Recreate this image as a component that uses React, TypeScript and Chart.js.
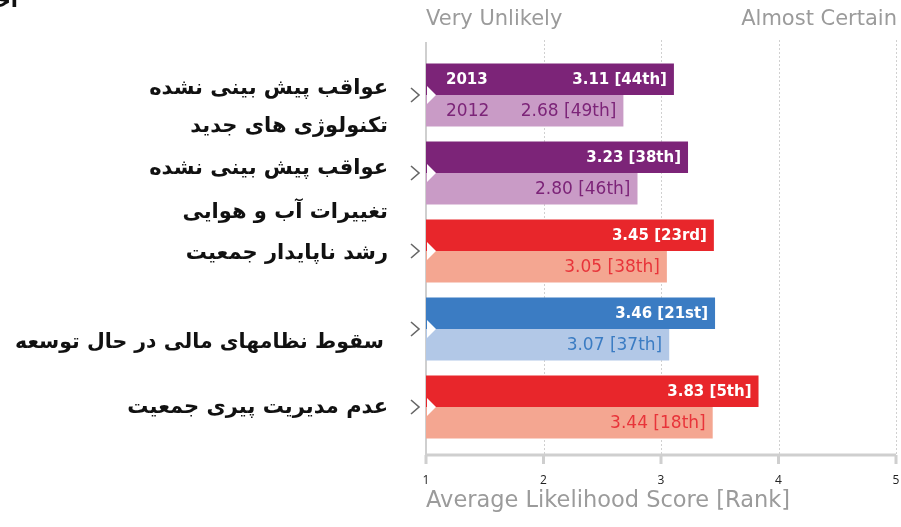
import React, { useEffect, useRef } from 'react';
import { Chart, registerables } from 'chart.js';

Chart.register(...registerables);

// ---------- data ----------
const labelLines: string[][] = [
  ['عواقب پیش بینی نشده', 'تکنولوژی های جدید'],
  ['عواقب پیش بینی نشده', 'تغییرات آب و هوایی'],
  ['رشد ناپایدار جمعیت'],
  ['سقوط نظامهای مالی در حال توسعه'],
  ['عدم مدیریت پیری جمعیت'],
];
const categories = labelLines.map((l) => l.join(' '));
const seriesNames = ['2013', '2012'];
const scores2013 = [3.11, 3.23, 3.45, 3.46, 3.83];
const ranks2013 = ['44th', '38th', '23rd', '21st', '5th'];
const scores2012 = [2.68, 2.8, 3.05, 3.07, 3.44];
const ranks2012 = ['49th', '46th', '38th', '37th', '18th'];
const xTicks = [1, 2, 3, 4, 5];
const topLeftLabel = 'Very Unlikely';
const topRightLabel = 'Almost Certain';
const axisTitle = 'Average Likelihood Score [Rank]';
const clippedTitle = 'احتمال';

// ---------- styles ----------
const PURPLE = { dark: '#7c2478', light: '#c99bc6', text: '#7c2478' };
const RED = { dark: '#e8262b', light: '#f4a691', text: '#e8343a' };
const BLUE = { dark: '#3b7cc3', light: '#b2c8e7', text: '#3b7cc3' };
const palette = [PURPLE, PURPLE, RED, BLUE, RED];
const labelYOffsets = [[-6, 32], [-4, 40], [3], [14], [1]];
const labelRight = [388, 388, 388, 384, 388];
const labelSize = [21, 21, 21, 20.5, 21];
const SANS = '"DejaVu Sans", sans-serif';

const decor = {
  id: 'decor',
  beforeDatasetsDraw(chart: any) {
    const { ctx, chartArea } = chart;
    const x = chart.scales.x;
    const top = chartArea.top - 16;
    const axisY = chartArea.bottom + 9;
    ctx.save();
    // dashed grid
    ctx.strokeStyle = '#d0d0d0';
    ctx.lineWidth = 1;
    ctx.setLineDash([2, 2]);
    x.ticks.forEach((t: any) => {
      if (t.value === xTicks[0]) return;
      const px = Math.round(x.getPixelForValue(t.value)) + 0.5;
      ctx.beginPath();
      ctx.moveTo(px, top);
      ctx.lineTo(px, axisY);
      ctx.stroke();
    });
    ctx.setLineDash([]);
    // left axis line
    ctx.strokeStyle = '#cfcfcf';
    ctx.lineWidth = 2;
    ctx.beginPath();
    ctx.moveTo(chartArea.left, top + 2);
    ctx.lineTo(chartArea.left, axisY);
    ctx.stroke();
    // bottom axis
    ctx.lineWidth = 3;
    ctx.beginPath();
    ctx.moveTo(chartArea.left, axisY);
    ctx.lineTo(chartArea.right, axisY);
    ctx.stroke();
    x.ticks.forEach((t: any) => {
      const px = x.getPixelForValue(t.value);
      ctx.beginPath();
      ctx.moveTo(px, axisY);
      ctx.lineTo(px, axisY + 9);
      ctx.stroke();
    });
    ctx.restore();
  },
  afterDatasetsDraw(chart: any) {
    const { ctx, chartArea } = chart;
    const y = chart.scales.y;
    ctx.save();
    // notches & chevrons
    categories.forEach((_, i) => {
      const c = y.getPixelForValue(i);
      ctx.fillStyle = '#ffffff';
      ctx.beginPath();
      ctx.moveTo(chartArea.left + 1, c - 9);
      ctx.lineTo(chartArea.left + 10, c);
      ctx.lineTo(chartArea.left + 1, c + 9);
      ctx.closePath();
      ctx.fill();
      ctx.strokeStyle = '#666666';
      ctx.lineWidth = 1.6;
      ctx.beginPath();
      ctx.moveTo(chartArea.left - 15, c - 7);
      ctx.lineTo(chartArea.left - 7, c);
      ctx.lineTo(chartArea.left - 15, c + 7);
      ctx.stroke();
    });
    // bar value labels
    const allScores = [scores2013, scores2012];
    const allRanks = [ranks2013, ranks2012];
    ctx.textBaseline = 'middle';
    [0, 1].forEach((di) => {
      const meta = chart.getDatasetMeta(di);
      meta.data.forEach((bar: any, i: number) => {
        const txt = `${allScores[di][i].toFixed(2)} [${allRanks[di][i]}]`;
        ctx.fillStyle = di === 0 ? '#ffffff' : palette[i].text;
        ctx.font = di === 0 ? `bold 15px ${SANS}` : `17px ${SANS}`;
        ctx.textAlign = 'right';
        ctx.fillText(txt, bar.x - 7, bar.y + 1);
        if (i === 0) {
          ctx.textAlign = 'left';
          ctx.fillText(seriesNames[di], chartArea.left + 20, bar.y + 1);
        }
      });
    });
    // category labels (Persian)
    ctx.fillStyle = '#111111';
    ctx.textAlign = 'right';
    ctx.direction = 'rtl';
    labelLines.forEach((lines, i) => {
      const c = y.getPixelForValue(i);
      ctx.font = `bold ${labelSize[i]}px ${SANS}`;
      lines.forEach((ln, k) => {
        ctx.fillText(ln, labelRight[i], c + labelYOffsets[i][k]);
      });
    });
    ctx.font = `bold 21px ${SANS}`;
    ctx.fillText(clippedTitle, 18, 2);
    ctx.direction = 'ltr';
    // top labels
    ctx.fillStyle = '#9b9b9b';
    ctx.font = `21px ${SANS}`;
    ctx.textAlign = 'left';
    ctx.fillText(topLeftLabel, chartArea.left, 20);
    ctx.textAlign = 'right';
    ctx.fillText(topRightLabel, chartArea.right + 1, 20);
    ctx.restore();
  },
};

export default function App() {
  const ref = useRef<HTMLCanvasElement>(null);
  useEffect(() => {
    document.body.style.margin = '0';
    const chart = new Chart(ref.current as HTMLCanvasElement, {
      type: 'bar',
      data: {
        labels: categories,
        datasets: [
          {
            label: seriesNames[0],
            data: scores2013,
            backgroundColor: palette.map((p) => p.dark),
            borderWidth: 0,
            categoryPercentage: 0.81,
            barPercentage: 1,
          },
          {
            label: seriesNames[1],
            data: scores2012,
            backgroundColor: palette.map((p) => p.light),
            borderWidth: 0,
            categoryPercentage: 0.81,
            barPercentage: 1,
          },
        ],
      },
      options: {
        indexAxis: 'y',
        animation: false,
        responsive: false,
        devicePixelRatio: 1,
        layout: { padding: { left: 426, right: 5, top: 56, bottom: 0 } },
        plugins: { legend: { display: false }, tooltip: { enabled: false } },
        scales: {
          x: {
            type: 'linear',
            min: xTicks[0],
            max: xTicks[xTicks.length - 1],
            afterBuildTicks: (s: any) => {
              s.ticks = xTicks.map((v) => ({ value: v }));
            },
            afterFit: (s: any) => {
              s.height = 81;
              s.paddingLeft = 0;
              s.paddingRight = 0;
            },
            grid: { display: false },
            border: { display: false },
            ticks: {
              padding: 19,
              color: '#222222',
              font: { size: 12, family: '"Open Sans", sans-serif' },
            },
            title: {
              display: true,
              text: axisTitle,
              align: 'start',
              color: '#9b9b9b',
              font: { size: 22.5, family: SANS },
              padding: { top: 0, bottom: 12 },
            },
          },
          y: { display: false },
        },
      },
      plugins: [decor],
    } as any);
    return () => chart.destroy();
  }, []);
  return (
    <div style={{ width: 901, height: 527, background: '#fff' }}>
      <canvas ref={ref} width={901} height={527} />
    </div>
  );
}
